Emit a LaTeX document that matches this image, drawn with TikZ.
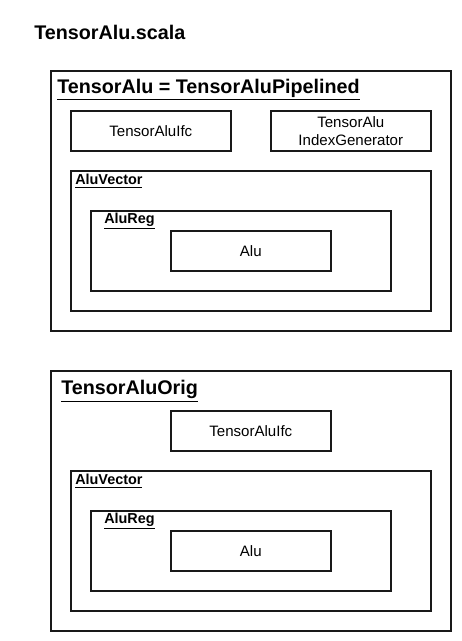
\documentclass[tikz,border=0pt]{standalone}
\usepackage{fontspec}
\setmainfont{Liberation Sans}
\begin{document}
\begin{tikzpicture}[x=0.75pt, y=-0.75pt,
	every node/.style={inner sep=0pt},
	box/.style={draw=black!90, line width=1.2pt, rectangle, anchor=north west, align=center, font=\fontsize{11.3}{13.5}\selectfont},
	wide/.style={box, minimum width=300pt, minimum height=195pt},
	mid/.style={box, minimum width=270pt, minimum height=105pt},
	reg/.style={box, minimum width=225pt, minimum height=60pt},
	small/.style={box, minimum width=120pt, minimum height=30pt},
	head/.style={anchor=west, font=\bfseries\fontsize{14.8}{16}\selectfont},
	tag/.style={anchor=west, font=\bfseries\fontsize{10.8}{12}\selectfont}]

	\useasboundingbox (0,0) rectangle (461,641);

	\node[head] (file) at (34,32) {TensorAlu.scala};

	% pipelined version
	\node[wide] (pipe) at (50,70) {};
	\node[head] (pipename) at (57,90) {\underline{TensorAlu = TensorAluPipelined}};
	\node[small] (ifc1) at (70,110) {TensorAluIfc};
	\node[small] (index) at (270,110) {TensorAlu\\IndexGenerator};
	\node[mid] (vec1) at (70,170) {};
	\node[tag] (vecname1) at (75,181) {\underline{AluVector}};
	\node[reg] (reg1) at (90,210) {};
	\node[tag] (regname1) at (104,221) {\underline{AluReg}};
	\node[small] (alu1) at (170,230) {Alu};

	% original version
	\node[wide] (orig) at (50,370) {};
	\node[head] (origname) at (61,391) {\underline{TensorAluOrig}};
	\node[small] (ifc2) at (170,410) {TensorAluIfc};
	\node[mid] (vec2) at (70,470) {};
	\node[tag] (vecname2) at (75,481) {\underline{AluVector}};
	\node[reg] (reg2) at (90,510) {};
	\node[tag] (regname2) at (104,521) {\underline{AluReg}};
	\node[small] (alu2) at (170,530) {Alu};

\end{tikzpicture}
\end{document}
